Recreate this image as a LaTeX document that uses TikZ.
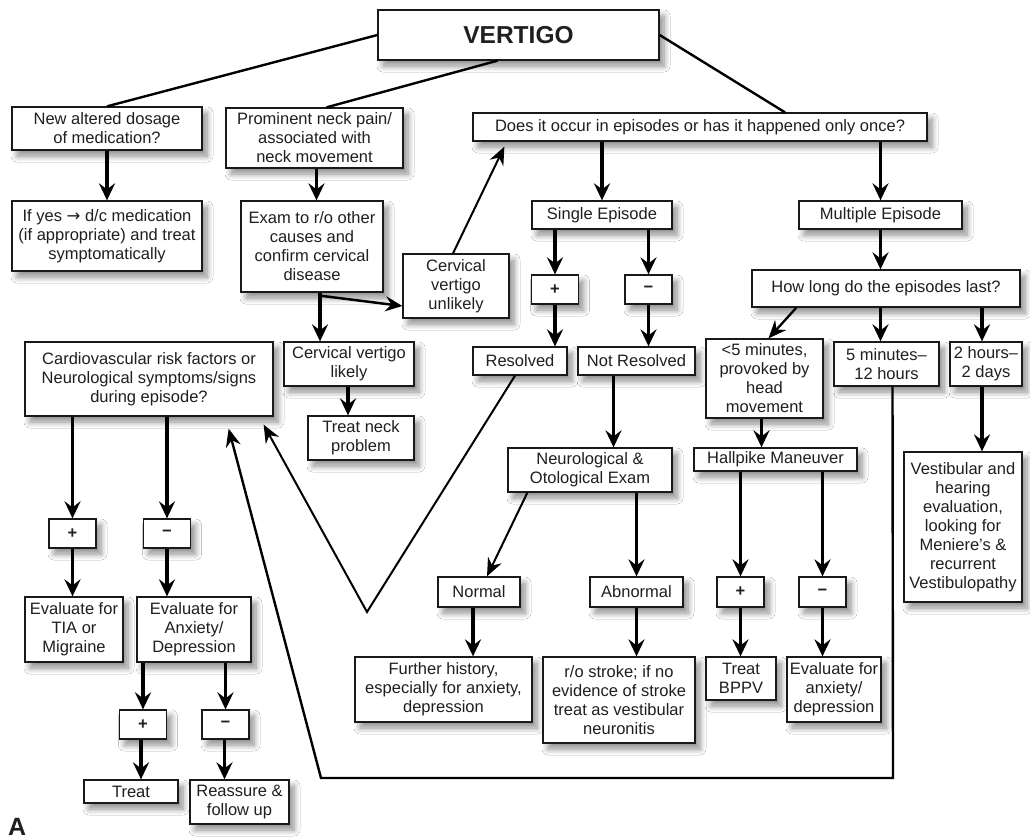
\documentclass[tikz,border=0pt]{standalone}
\usepackage{fontspec}
\setmainfont{Liberation Sans}
\newfontfamily\arrowfont{DejaVu Sans}
\usetikzlibrary{arrows.meta,shadows.blur}

\begin{document}
\begin{tikzpicture}[x=1pt, y=-1pt,
    box/.style={draw=black!90, line width=1.3pt, fill=white, align=center, inner sep=1pt,
        font=\fontsize{16.5}{19}\selectfont, text=black!88,
        blur shadow={shadow xshift=5pt, shadow yshift=-6pt, shadow blur steps=8, shadow blur radius=6pt, shadow opacity=45}},
    sign/.style={box, minimum width=47pt, minimum height=29pt, font=\fontsize{16.5}{19}\selectfont\bfseries},
    arr/.style={line width=3.5pt, -{Stealth[length=17pt, width=16pt, inset=6pt]}},
    thinarr/.style={line width=2pt, -{Stealth[length=18pt, width=15pt, inset=6pt]}},
    link/.style={line width=2.4pt}]

    \fill[white] (0,0) rectangle (1030,839);
    \useasboundingbox (0,0) rectangle (1030,839);

    % Top of the chart
    \node[box, minimum width=281pt, minimum height=50pt, font=\fontsize{24.5}{28}\selectfont\bfseries] (vertigo) at (518.5,35) {VERTIGO};
    \node[box, minimum width=190pt, minimum height=43pt] (dosage) at (107,128.5) {New altered dosage\\of medication?};
    \node[box, minimum width=190pt, minimum height=70pt] (ifyes) at (107,236) {If yes {\arrowfont →} d/c medication\\(if appropriate) and treat\\symptomatically};
    \node[box, minimum width=177pt, minimum height=60pt] (neck) at (314.5,138) {Prominent neck pain/\\associated with\\neck movement};
    \node[box, minimum width=142pt, minimum height=91pt] (exam) at (312,246.5) {Exam to r/o other\\causes and\\confirm cervical\\disease};
    \node[box, minimum width=106pt, minimum height=64pt] (unlikely) at (456,286) {Cervical\\vertigo\\unlikely};
    \node[box, minimum width=454pt, minimum height=28pt] (episodes) at (700,127) {Does it occur in episodes or has it happened only once?};

    % Single / multiple episodes
    \node[box, minimum width=140pt, minimum height=28pt] (single) at (602,215) {Single Episode};
    \node[box, minimum width=163pt, minimum height=28pt] (multiple) at (880.5,215) {Multiple Episode};
    \node[sign] (splus) at (555,289.5) {+};
    \node[sign] (sminus) at (648.5,289.5) {−};
    \node[box, minimum width=268pt, minimum height=37pt] (howlong) at (886,288.5) {How long do the episodes last?};
    \node[box, minimum width=94pt, minimum height=28pt] (resolved) at (520,361) {Resolved};
    \node[box, minimum width=117pt, minimum height=28pt] (notres) at (636.5,361) {Not Resolved};
    \node[box, minimum width=117pt, minimum height=79pt] (short) at (764.5,378.5) {<5 minutes,\\provoked by\\head\\movement};
    \node[box, minimum width=105pt, minimum height=44pt] (medium) at (886.5,364) {5 minutes–\\12 hours};
    \node[box, minimum width=72pt, minimum height=44pt] (long) at (986,364) {2 hours–\\2 days};
    \node[box, minimum width=164pt, minimum height=44pt] (neuro) at (590,470) {Neurological \&\\Otological Exam};
    \node[box, minimum width=163pt, minimum height=23pt] (hallpike) at (775.5,459.5) {Hallpike Maneuver};
    \node[box, minimum width=118pt, minimum height=150pt] (vestib) at (963,527) {Vestibular and\\hearing\\evaluation,\\looking for\\Meniere’s \&\\recurrent\\Vestibulopathy};

    % Cervical and cardiovascular side
    \node[box, minimum width=248pt, minimum height=74pt] (cardio) at (149,379) {Cardiovascular risk factors or\\Neurological symptoms/signs\\during episode?};
    \node[box, minimum width=130pt, minimum height=44pt] (likely) at (349,364) {Cervical vertigo\\likely};
    \node[box, minimum width=106pt, minimum height=44pt] (neckrx) at (361,438) {Treat neck\\problem};
    \node[sign] (cplus) at (72.5,533.5) {+};
    \node[sign] (cminus) at (167,533.5) {−};
    \node[box, minimum width=98pt, minimum height=65pt] (tia) at (74,629.5) {Evaluate for\\TIA or\\Migraine};
    \node[box, minimum width=114pt, minimum height=65pt] (anxiety) at (194,629.5) {Evaluate for\\Anxiety/\\Depression};
    \node[sign] (aplus) at (143,724.5) {+};
    \node[sign] (aminus) at (225.5,724.5) {−};
    \node[box, minimum width=94pt, minimum height=23pt] (treat) at (131,791.5) {Treat};
    \node[box, minimum width=99pt, minimum height=44pt] (reassure) at (239.5,802) {Reassure \&\\follow up};

    % Bottom row
    \node[box, minimum width=82pt, minimum height=30pt] (normal) at (479,592) {Normal};
    \node[box, minimum width=177pt, minimum height=65pt] (further) at (443.5,689.5) {Further history,\\especially for anxiety,\\depression};
    \node[box, minimum width=93pt, minimum height=30pt] (abnormal) at (636.5,592) {Abnormal};
    \node[box, minimum width=152pt, minimum height=86pt] (rostroke) at (619,700) {r/o stroke; if no\\evidence of stroke\\treat as vestibular\\neuronitis};
    \node[sign, minimum height=30pt] (hplus) at (740.5,592) {+};
    \node[sign, minimum height=30pt] (hminus) at (822.5,592) {−};
    \node[box, minimum width=70pt, minimum height=43pt] (bppv) at (741,678.5) {Treat\\BPPV};
    \node[box, minimum width=94pt, minimum height=65pt] (evalanx) at (834,689.5) {Evaluate for\\anxiety/\\depression};

    \node[font=\fontsize{25}{28}\selectfont\bfseries, text=black!88, anchor=south west, inner sep=0pt] (panel) at (8,836) {A};

    % Lines from the title
    \draw[link] (vertigo.west) -- (dosage.north);
    \draw[link] ([xshift=-21pt]vertigo.south) -- ([xshift=12pt]neck.north);
    \draw[link] (vertigo.east) -- ([xshift=85pt]episodes.north);

    % Medication and neck branch
    \draw[arr] (dosage.south) -- (ifyes.north);
    \draw[arr] ([xshift=2pt]neck.south) -- ([xshift=2pt]neck.south |- exam.north);
    \coordinate (split) at ([xshift=8pt, yshift=-3pt]exam.south);
    \draw[arr] (split |- exam.south) -- (split |- likely.north);
    \draw[line width=2.5pt, -{Stealth[length=17pt, width=15pt, inset=6pt]}] (split) -- ([yshift=-20pt]unlikely.west);
    \coordinate (backtip) at ([xshift=32pt, yshift=-5pt]episodes.south west);
    \draw[thinarr] ([xshift=-3pt]unlikely.north) -- (backtip);
    \draw[arr] ([xshift=-1pt]likely.south) -- ([xshift=-1pt]likely.south |- neckrx.north);

    % Episode branch
    \draw[arr] (single.north |- episodes.south) -- (single.north);
    \draw[arr] (multiple.north |- episodes.south) -- (multiple.north);
    \draw[arr] (splus.north |- single.south) -- (splus.north);
    \draw[arr] (sminus.north |- single.south) -- (sminus.north);
    \draw[arr] (splus.south) -- (splus.south |- resolved.north);
    \draw[arr] (sminus.south) -- (sminus.south |- notres.north);
    \draw[arr] (multiple.south) -- (multiple.south |- howlong.north);
    \draw[thinarr, line width=2.3pt] ([xshift=45pt]howlong.south west) -- ([xshift=4pt]short.north);
    \draw[arr] (howlong.south -| multiple.south) -- (medium.north -| multiple.south);
    \draw[arr] ([xshift=-4pt]long.north |- howlong.south) -- ([xshift=-4pt]long.north);
    \draw[arr] ([xshift=-23pt]notres.south) -- ([xshift=-23pt]notres.south |- neuro.north);
    \draw[arr] ([xshift=-3pt]short.south) -- ([xshift=-3pt]short.south |- hallpike.north);
    \draw[arr] ([xshift=-4pt]long.south) -- ([xshift=-4pt]long.south |- vestib.north);
    \draw[arr] (hplus.north |- hallpike.south) -- (hplus.north);
    \draw[arr] (hminus.north |- hallpike.south) -- (hminus.north);
    \draw[arr] (abnormal.north |- neuro.south) -- (abnormal.north);
    \draw[thinarr] ([xshift=20pt]neuro.south west) -- ([xshift=8pt]normal.north);
    \draw[arr] ([xshift=-6pt]normal.south) -- ([xshift=-6pt]normal.south |- further.north);
    \draw[arr] (abnormal.south) -- (abnormal.south |- rostroke.north);
    \draw[arr] (hplus.south) -- (hplus.south |- bppv.north);
    \draw[arr] (hminus.south) -- (hminus.south |- evalanx.north);

    % Back to the cardiovascular question
    \coordinate (vtip) at (367,612);
    \draw[thinarr] ([xshift=-5pt]resolved.south) -- (vtip) -- ([xshift=-10pt, yshift=-8pt]cardio.south east);
    \coordinate (loopR) at (893,778);
    \coordinate (loopL) at (321,778);
    \draw[thinarr, line width=2.4pt] ([xshift=6pt]medium.south) -- (loopR) -- (loopL) -- ([xshift=-45pt, yshift=-12pt]cardio.south east);

    % Cardiovascular branch
    \draw[arr] (cplus.north |- cardio.south) -- (cplus.north);
    \draw[arr] (cminus.north |- cardio.south) -- (cminus.north);
    \draw[arr] (cplus.south) -- (cplus.south |- tia.north);
    \draw[arr] (cminus.south) -- (cminus.south |- anxiety.north);
    \draw[arr] (aplus.north |- anxiety.south) -- (aplus.north);
    \draw[arr] (aminus.north |- anxiety.south) -- (aminus.north);
    \draw[arr] ([xshift=-2pt]aplus.south) -- ([xshift=-2pt]aplus.south |- treat.north);
    \draw[arr] ([xshift=-1pt]aminus.south) -- ([xshift=-1pt]aminus.south |- reassure.north);

\end{tikzpicture}
\end{document}
